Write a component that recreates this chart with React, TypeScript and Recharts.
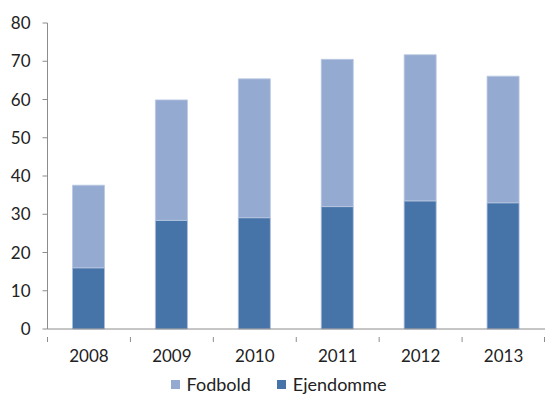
import { BarChart, Bar, XAxis, YAxis, Legend } from 'recharts';

const years = ['2008', '2009', '2010', '2011', '2012', '2013'];
const eiendomme = [16.0, 28.4, 29.1, 32.0, 33.5, 33.0];
const fodbold = [21.6, 31.5, 36.3, 38.5, 38.2, 33.1];
const yTicks = [0, 10, 20, 30, 40, 50, 60, 70, 80];

const DARK = '#4673a8';
const LIGHT = '#95aad0';
const AXIS = '#8c8c8c';
const FONT = 'Lato, "Open Sans", sans-serif';

const WIDTH = 545;
const HEIGHT = 394;
const PLOT_LEFT = 47.5;
const PLOT_RIGHT = 545;

const data = years.map((year, i) => ({
  year,
  eiendomme: eiendomme[i],
  fodbold: fodbold[i],
}));

// Category label plus the small tick marks that sit between the categories
function YearTick(props: any) {
  const { x, y, payload, index } = props;
  const band = (PLOT_RIGHT - PLOT_LEFT) / years.length;
  const left = x - band / 2;
  return (
    <g>
      <line x1={left} y1={y} x2={left} y2={y + 5} stroke={AXIS} />
      {index === years.length - 1 && (
        <line x1={left + band - 0.5} y1={y} x2={left + band - 0.5} y2={y + 5} stroke={AXIS} />
      )}
      <text
        x={x}
        y={y + 25}
        textAnchor="middle"
        fill="#222"
        fontSize={17}
        fontFamily={FONT}
      >
        {payload.value}
      </text>
    </g>
  );
}

function LegendBox() {
  const items = [
    { label: 'Fodbold', color: LIGHT },
    { label: 'Ejendomme', color: DARK },
  ];
  return (
    <div
      style={{
        display: 'flex',
        justifyContent: 'center',
        gap: 26,
        height: 20,
        fontFamily: FONT,
        fontSize: 18,
        color: '#222',
        lineHeight: '20px',
        paddingLeft: 12,
      }}
    >
      {items.map((it) => (
        <div key={it.label} style={{ display: 'flex', alignItems: 'center' }}>
          <span
            style={{
              display: 'inline-block',
              width: 9,
              height: 9,
              background: it.color,
              marginRight: 7,
            }}
          />
          {it.label}
        </div>
      ))}
    </div>
  );
}

export default function App() {
  return (
    <div style={{ position: 'absolute', left: 0, top: 0, background: '#fff' }}>
      <BarChart
        width={WIDTH}
        height={HEIGHT}
        data={data}
        margin={{ top: 23, right: 0, bottom: 0, left: 0 }}
        barSize={32}
      >
        <YAxis
          domain={[0, 80]}
          ticks={yTicks}
          width={PLOT_LEFT}
          axisLine={{ stroke: AXIS }}
          tickLine={{ stroke: AXIS }}
          tickSize={5}
          tickMargin={12}
          tick={{ fill: '#222', fontSize: 17, fontFamily: FONT }}
        />
        <XAxis
          dataKey="year"
          height={45}
          axisLine={{ stroke: AXIS }}
          tickLine={false}
          tick={<YearTick />}
          interval={0}
        />
        <Legend verticalAlign="bottom" height={20} content={<LegendBox />} />
        <Bar dataKey="eiendomme" stackId="a" fill={DARK} stroke="#a9bbdb" strokeWidth={0.8} isAnimationActive={false} />
        <Bar dataKey="fodbold" stackId="a" fill={LIGHT} stroke="#b9c8e2" strokeWidth={0.8} isAnimationActive={false} />
      </BarChart>
    </div>
  );
}
